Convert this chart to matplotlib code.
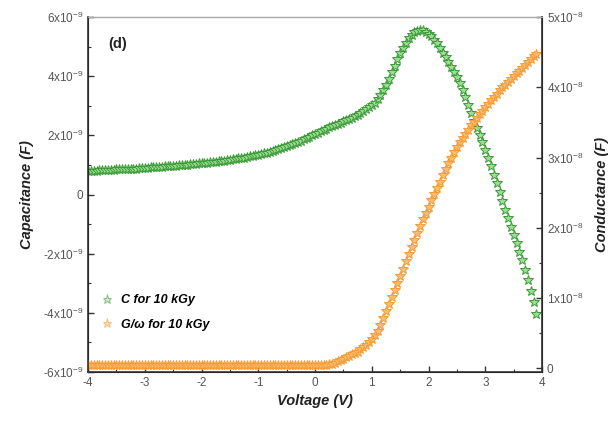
import numpy as np
import matplotlib
matplotlib.use("Agg")
import matplotlib.pyplot as plt
from matplotlib.ticker import MultipleLocator, FixedLocator

plt.rcParams['font.family'] = ['Liberation Sans', 'DejaVu Sans']
plt.rcParams['mathtext.fontset'] = 'custom'
plt.rcParams['mathtext.rm'] = 'Liberation Sans'
plt.rcParams['axes.unicode_minus'] = False

# voltage sweep grid (V), -4.00 .. 3.90 in 0.05 V steps
voltage = np.round(np.arange(-4.0, 3.901, 0.05), 2)

# capacitance, units of 1e-9 F (one row = 0.5 V)
cap = [0.80, 0.80, 0.81, 0.81, 0.82, 0.82, 0.83, 0.83, 0.84, 0.84,
       0.85, 0.85, 0.86, 0.86, 0.87, 0.87, 0.88, 0.88, 0.89, 0.89,
       0.90, 0.91, 0.92, 0.92, 0.93, 0.94, 0.94, 0.95, 0.96, 0.96,
       0.97, 0.98, 0.99, 0.99, 1.00, 1.01, 1.02, 1.03, 1.04, 1.05,
       1.06, 1.07, 1.08, 1.09, 1.10, 1.11, 1.12, 1.13, 1.15, 1.16,
       1.17, 1.19, 1.20, 1.22, 1.23, 1.25, 1.27, 1.29, 1.31, 1.33,
       1.35, 1.37, 1.40, 1.42, 1.45, 1.48, 1.51, 1.54, 1.57, 1.60,
       1.63, 1.67, 1.70, 1.74, 1.78, 1.82, 1.87, 1.91, 1.96, 2.00,
       2.05, 2.09, 2.14, 2.18, 2.23, 2.27, 2.31, 2.35, 2.39, 2.43,
       2.47, 2.51, 2.56, 2.60, 2.65, 2.70, 2.76, 2.82, 2.88, 2.95,
       3.02, 3.11, 3.22, 3.36, 3.52, 3.71, 3.92, 4.14, 4.36, 4.57,
       4.78, 4.97, 5.14, 5.28, 5.40, 5.48, 5.54, 5.57, 5.55, 5.51,
       5.44, 5.35, 5.24, 5.11, 4.96, 4.80, 4.64, 4.47, 4.30, 4.14,
       3.98, 3.78, 3.55, 3.29, 3.02, 2.76, 2.50, 2.26, 2.02, 1.77,
       1.52, 1.24, 0.95, 0.67, 0.38, 0.08, -0.22, -0.51, -0.80, -1.09,
       -1.38, -1.65, -1.93, -2.23, -2.55, -2.89, -3.25, -3.64, -4.05]

# conductance G/w, units of 1e-8 (one row = 0.5 V)
cond = [0.05, 0.05, 0.05, 0.05, 0.05, 0.05, 0.05, 0.05, 0.05, 0.05,
        0.05, 0.05, 0.05, 0.05, 0.05, 0.05, 0.05, 0.05, 0.05, 0.05,
        0.05, 0.05, 0.05, 0.05, 0.05, 0.05, 0.05, 0.05, 0.05, 0.05,
        0.05, 0.05, 0.05, 0.05, 0.05, 0.05, 0.05, 0.05, 0.05, 0.05,
        0.05, 0.05, 0.05, 0.05, 0.05, 0.05, 0.05, 0.05, 0.05, 0.05,
        0.05, 0.05, 0.05, 0.05, 0.05, 0.05, 0.05, 0.05, 0.05, 0.05,
        0.05, 0.05, 0.05, 0.05, 0.05, 0.05, 0.05, 0.05, 0.05, 0.05,
        0.05, 0.05, 0.05, 0.05, 0.05, 0.05, 0.05, 0.05, 0.05, 0.05,
        0.05, 0.05, 0.05, 0.05, 0.05, 0.06, 0.07, 0.08, 0.10, 0.12,
        0.14, 0.16, 0.18, 0.20, 0.22, 0.24, 0.27, 0.30, 0.34, 0.38,
        0.42, 0.47, 0.53, 0.62, 0.72, 0.82, 0.92, 1.02, 1.12, 1.22,
        1.32, 1.42, 1.53, 1.63, 1.73, 1.83, 1.93, 2.03, 2.12, 2.21,
        2.30, 2.39, 2.48, 2.57, 2.66, 2.75, 2.84, 2.92, 3.00, 3.08,
        3.15, 3.22, 3.28, 3.34, 3.40, 3.46, 3.51, 3.57, 3.62, 3.67,
        3.72, 3.77, 3.82, 3.87, 3.91, 3.96, 4.00, 4.04, 4.08, 4.12,
        4.16, 4.20, 4.24, 4.28, 4.32, 4.36, 4.40, 4.44, 4.48]

left_ticks = [-6, -4, -2, 0, 2, 4, 6]
left_labels = ['-6x10$^{-9}$', '-4x10$^{-9}$', '-2x10$^{-9}$', '0',
               '2x10$^{-9}$', '4x10$^{-9}$', '6x10$^{-9}$']
right_ticks = [0, 1, 2, 3, 4, 5]
right_labels = ['0', '1x10$^{-8}$', '2x10$^{-8}$', '3x10$^{-8}$',
                '4x10$^{-8}$', '5x10$^{-8}$']

green_e = '#3a9a36'
green_f = '#9edc96'
orange_e = '#f59a35'
orange_f = '#fbbd70'
tick_col = '#555555'

fig = plt.figure(figsize=(6.16, 4.28), dpi=100)
ax = fig.add_axes([0.143, 0.131, 0.737, 0.829])
ax2 = ax.twinx()

l1, = ax.plot(voltage, cap, linestyle='none', marker='*', markersize=7.5,
              mfc=green_f, mec=green_e, mew=0.7, label='C for 10 kGy')
l2, = ax2.plot(voltage, cond, linestyle='none', marker='*', markersize=7.5,
               mfc=orange_f, mec=orange_e, mew=0.7, label='G/\u03c9 for 10 kGy')

ax.set_xlim(-4, 4)
ax.set_ylim(-6, 6)
ax2.set_ylim(-0.05, 5)

ax.xaxis.set_major_locator(MultipleLocator(1))
ax.xaxis.set_minor_locator(MultipleLocator(0.5))
ax.yaxis.set_major_locator(FixedLocator(left_ticks))
ax.set_yticklabels(left_labels)
ax.yaxis.set_minor_locator(MultipleLocator(1))
ax2.yaxis.set_major_locator(FixedLocator(right_ticks))
ax2.set_yticklabels(right_labels)
ax2.yaxis.set_minor_locator(MultipleLocator(0.5))

for a in (ax, ax2):
    a.tick_params(which='major', direction='in', length=4, width=1,
                  labelsize=8.5, labelcolor=tick_col, color='#333333')
    a.tick_params(which='minor', direction='in', length=2.5, width=0.8,
                  color='#333333')
ax.tick_params(top=False, which='both')
ax2.tick_params(top=False, which='both')

for side in ('left', 'bottom', 'right'):
    ax2.spines[side].set_color('#333333')
    ax2.spines[side].set_linewidth(1.2)
ax2.spines['top'].set_color('#aaaaaa')

ax.set_xlabel('Voltage (V)', fontsize=10.5, fontweight='bold', style='italic',
              color='#222222', labelpad=4)
ax.set_ylabel('Capacitance (F)', fontsize=10.5, fontweight='bold', style='italic',
              color='#222222', labelpad=6)
ax2.set_ylabel('Conductance (F)', fontsize=10.5, fontweight='bold', style='italic',
               color='#222222', labelpad=8)

ax.text(0.045, 0.925, '(d)', transform=ax.transAxes, fontsize=10.5,
        fontweight='bold', color='#222222', va='center')

leg = ax.legend(handles=[l1, l2], loc='lower left', bbox_to_anchor=(0.0, 0.085),
                frameon=False, handlelength=1.2, handletextpad=0.5,
                labelspacing=1.0, markerscale=0.9,
                prop={'weight': 'bold', 'style': 'italic', 'size': 9})
for h in leg.legend_handles:
    h.set_alpha(0.55)

fig.savefig('out.png', dpi=100)
